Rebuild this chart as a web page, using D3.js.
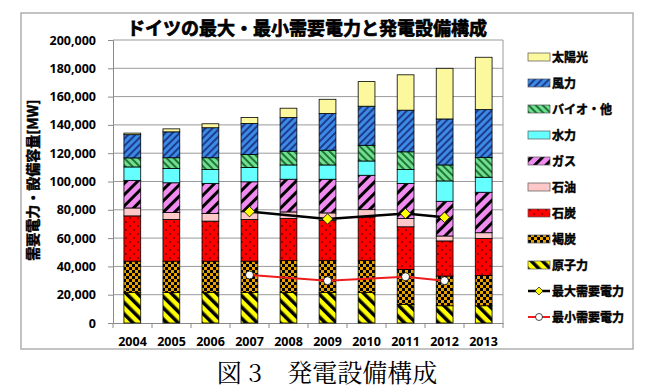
<!DOCTYPE html>
<html>
<head>
<meta charset="utf-8">
<script src="https://cdn.jsdelivr.net/npm/d3@7"></script>
<style>
body { margin: 0; background: #fff; }
text { font-family: "Noto Sans", "Noto Sans CJK JP", sans-serif; }
.jp { font-family: "Noto Sans CJK JP", sans-serif; font-weight: bold; stroke: #000; stroke-width: 0.45px; }
</style>
</head>
<body>
<div id="chart"></div>
<script>
// data (MW)
const years = ['2004', '2005', '2006', '2007', '2008', '2009', '2010', '2011', '2012', '2013'];
const nuclear = [21500, 21500, 21500, 21500, 21500, 21500, 21500, 13000, 12200, 12200];
const lignite = [22200, 22200, 22200, 22200, 22600, 22800, 22800, 24800, 21000, 21300];
const coal    = [32000, 29500, 28300, 29500, 29700, 28300, 30700, 30200, 24800, 26300];
const oil     = [5600, 4900, 5400, 5400, 4700, 5200, 5100, 5900, 3500, 4000];
const gas     = [19500, 21000, 21200, 21200, 23100, 23800, 24300, 24700, 24500, 28600];
const hydro   = [9500, 10100, 9900, 10100, 10100, 10100, 10100, 9900, 14400, 10600];
const bio     = [6400, 7600, 8300, 9200, 9700, 10400, 11100, 12500, 11300, 14100];
const wind    = [16400, 18300, 21200, 21900, 23800, 25900, 27600, 29400, 32500, 33700];
const solar   = [1100, 2100, 2800, 4300, 6600, 10100, 17400, 25000, 35800, 37000];
const maxDemand = [null, null, null, 78700, null, 73500, null, 77300, 74700, null];
const minDemand = [null, null, null, 33900, null, 29900, null, 32700, 29900, null];
const yTicks = [0, 20000, 40000, 60000, 80000, 100000, 120000, 140000, 160000, 180000, 200000];

const series = [
    {key: 'nuclear', name: '原子力', values: nuclear, fill: 'url(#pNuclear)'},
    {key: 'lignite', name: '褐炭', values: lignite, fill: 'url(#pLignite)'},
    {key: 'coal', name: '石炭', values: coal, fill: 'url(#pCoal)'},
    {key: 'oil', name: '石油', values: oil, fill: '#ffc8c8'},
    {key: 'gas', name: 'ガス', values: gas, fill: 'url(#pGas)'},
    {key: 'hydro', name: '水力', values: hydro, fill: '#66ffff'},
    {key: 'bio', name: 'バイオ・他', values: bio, fill: 'url(#pBio)'},
    {key: 'wind', name: '風力', values: wind, fill: 'url(#pWind)'},
    {key: 'solar', name: '太陽光', values: solar, fill: '#fbf89e'}
];

const W = 658, H = 389;
const margin = {left: 113, right: 503, top: 40, bottom: 323};

const svg = d3.select('#chart').append('svg').attr('width', W).attr('height', H);
const defs = svg.append('defs');

function stripes(id, bg, fg, size, sw, dir) {
    let p = defs.append('pattern').attr('id', id).attr('patternUnits', 'userSpaceOnUse')
        .attr('width', size).attr('height', size)
        .attr('patternTransform', `rotate(${dir})`);
    p.append('rect').attr('width', size).attr('height', size).attr('fill', bg);
    p.append('rect').attr('width', sw).attr('height', size).attr('fill', fg);
}
stripes('pNuclear', '#ffff00', '#000', 8, 3.5, -45);
stripes('pGas', '#f08cf0', '#000', 8, 3, 45);
stripes('pWind', '#3d8ae6', '#1c3c8c', 5, 2, 45);
stripes('pBio', '#6ee08e', '#23733a', 5, 2, -45);

let pc = defs.append('pattern').attr('id', 'pCoal').attr('patternUnits', 'userSpaceOnUse').attr('width', 8).attr('height', 8);
pc.append('rect').attr('width', 8).attr('height', 8).attr('fill', '#ff0000');
pc.append('circle').attr('cx', 2).attr('cy', 2).attr('r', 0.9).attr('fill', '#600');
pc.append('circle').attr('cx', 6).attr('cy', 6).attr('r', 0.9).attr('fill', '#600');

let pl = defs.append('pattern').attr('id', 'pLignite').attr('patternUnits', 'userSpaceOnUse').attr('width', 6).attr('height', 6);
pl.append('rect').attr('width', 6).attr('height', 6).attr('fill', '#e8a200');
pl.append('rect').attr('width', 3).attr('height', 3).attr('fill', '#000');
pl.append('rect').attr('x', 3).attr('y', 3).attr('width', 3).attr('height', 3).attr('fill', '#000');

// frame
svg.append('rect').attr('x', 21).attr('y', 13).attr('width', 612).attr('height', 336)
    .attr('fill', 'none').attr('stroke', '#b0b0b0').attr('stroke-width', 1.5);

const x = d3.scaleBand().domain(years).range([margin.left, margin.right]).paddingInner(0.57).paddingOuter(0.28);
const xb = d3.scaleBand().domain(years).range([margin.left, margin.right]);
const y = d3.scaleLinear().domain([0, 200000]).range([margin.bottom, margin.top]);

// grid
svg.append('g').selectAll('line').data(yTicks.slice(1)).enter().append('line')
    .attr('x1', margin.left).attr('x2', margin.right)
    .attr('y1', d => y(d)).attr('y2', d => y(d))
    .attr('stroke', '#9a9a9a').attr('stroke-width', 1);
svg.append('line').attr('x1', margin.right).attr('x2', margin.right)
    .attr('y1', margin.top).attr('y2', margin.bottom).attr('stroke', '#9a9a9a');

// y axis
let yAxis = svg.append('g').attr('transform', `translate(${margin.left},0)`)
    .call(d3.axisLeft(y).tickValues(yTicks).tickFormat(d3.format(',')).tickSize(5).tickPadding(12));
yAxis.selectAll('path, line').attr('stroke', '#8a8a8a');
yAxis.selectAll('text').attr('font-size', 12.5).attr('font-weight', 'bold').attr('fill', '#000')
    .style('font-family', '"Noto Sans", sans-serif');

// x axis
let xAxis = svg.append('g').attr('transform', `translate(0,${margin.bottom})`)
    .call(d3.axisBottom(xb).tickSize(0).tickPadding(14));
xAxis.select('path').attr('stroke', '#8a8a8a');
xAxis.selectAll('text').attr('font-size', 12.5).attr('font-weight', 'bold').attr('fill', '#000')
    .style('font-family', '"Noto Sans", sans-serif');
svg.append('g').selectAll('line').data(years.concat(['end'])).enter().append('line')
    .attr('x1', (d, i) => margin.left + i * xb.bandwidth()).attr('x2', (d, i) => margin.left + i * xb.bandwidth())
    .attr('y1', margin.bottom).attr('y2', margin.bottom + 5).attr('stroke', '#8a8a8a');

// stacked bars
const table = years.map((yr, i) => {
    let row = {year: yr};
    series.forEach(s => row[s.key] = s.values[i]);
    return row;
});
const stack = d3.stack().keys(series.map(s => s.key))(table);

svg.append('g').selectAll('g').data(stack).enter().append('g')
    .attr('fill', (d, i) => series[i].fill)
    .selectAll('rect').data(d => d).enter().append('rect')
    .attr('x', d => x(d.data.year)).attr('width', x.bandwidth())
    .attr('y', d => y(d[1])).attr('height', d => y(d[0]) - y(d[1]))
    .attr('stroke', '#000').attr('stroke-width', 0.8);

// demand lines
function demandLine(values, color, width) {
    let pts = values.map((v, i) => ({year: years[i], v: v})).filter(d => d.v !== null);
    svg.append('path').datum(pts)
        .attr('d', d3.line().x(d => xb(d.year) + xb.bandwidth() / 2).y(d => y(d.v)))
        .attr('fill', 'none').attr('stroke', color).attr('stroke-width', width);
    return pts;
}
let maxPts = demandLine(maxDemand, '#000', 2.5);
let minPts = demandLine(minDemand, '#ee1c1c', 2);

svg.append('g').selectAll('path').data(maxPts).enter().append('path')
    .attr('d', d3.symbol().type(d3.symbolDiamond2).size(70))
    .attr('transform', d => `translate(${xb(d.year) + xb.bandwidth() / 2},${y(d.v)})`)
    .attr('fill', '#ffff00').attr('stroke', '#000').attr('stroke-width', 0.8);
svg.append('g').selectAll('circle').data(minPts).enter().append('circle')
    .attr('cx', d => xb(d.year) + xb.bandwidth() / 2).attr('cy', d => y(d.v)).attr('r', 4)
    .attr('fill', '#fff').attr('stroke', '#000').attr('stroke-width', 0.8);

// title
svg.append('text').attr('class', 'jp').attr('x', 307).attr('y', 35).attr('text-anchor', 'middle')
    .attr('font-size', 18).style('stroke-width', '0.7px').text('ドイツの最大・最小需要電力と発電設備構成');

// y axis title
svg.append('text').attr('class', 'jp').attr('transform', 'translate(38,180) rotate(-90)')
    .attr('text-anchor', 'middle').attr('font-size', 14)
    .text('需要電力・設備容量[MW]');

// legend
const legend = svg.append('g').attr('transform', 'translate(528,0)');
const legendItems = series.slice().reverse();
legendItems.forEach((s, i) => {
    let ly = 57 + i * 26;
    legend.append('rect').attr('x', 0).attr('y', ly - 4).attr('width', 22).attr('height', 8)
        .attr('fill', s.fill).attr('stroke', '#555').attr('stroke-width', 0.7);
    legend.append('text').attr('class', 'jp').attr('x', 24).attr('y', ly + 4.5)
        .attr('font-size', 12).text(s.name);
});
let ly1 = 57 + 9 * 26, ly2 = 57 + 10 * 26;
legend.append('line').attr('x1', 0).attr('x2', 22).attr('y1', ly1).attr('y2', ly1).attr('stroke', '#000').attr('stroke-width', 2.5);
legend.append('path').attr('d', d3.symbol().type(d3.symbolDiamond2).size(40)).attr('transform', `translate(11,${ly1})`)
    .attr('fill', '#ffff00').attr('stroke', '#000').attr('stroke-width', 0.7);
legend.append('text').attr('class', 'jp').attr('x', 24).attr('y', ly1 + 4.5).attr('font-size', 12).text('最大需要電力');
legend.append('line').attr('x1', 0).attr('x2', 22).attr('y1', ly2).attr('y2', ly2).attr('stroke', '#ee1c1c').attr('stroke-width', 2);
legend.append('circle').attr('cx', 11).attr('cy', ly2).attr('r', 3.5).attr('fill', '#fff').attr('stroke', '#000').attr('stroke-width', 0.7);
legend.append('text').attr('class', 'jp').attr('x', 24).attr('y', ly2 + 4.5).attr('font-size', 12).text('最小需要電力');

// caption
svg.append('text').attr('x', 327).attr('y', 382).attr('text-anchor', 'middle')
    .attr('font-size', 25).style('font-family', '"Noto Serif CJK JP", "Noto Sans CJK JP", serif')
    .text('図 3　発電設備構成');
</script>
</body>
</html>
